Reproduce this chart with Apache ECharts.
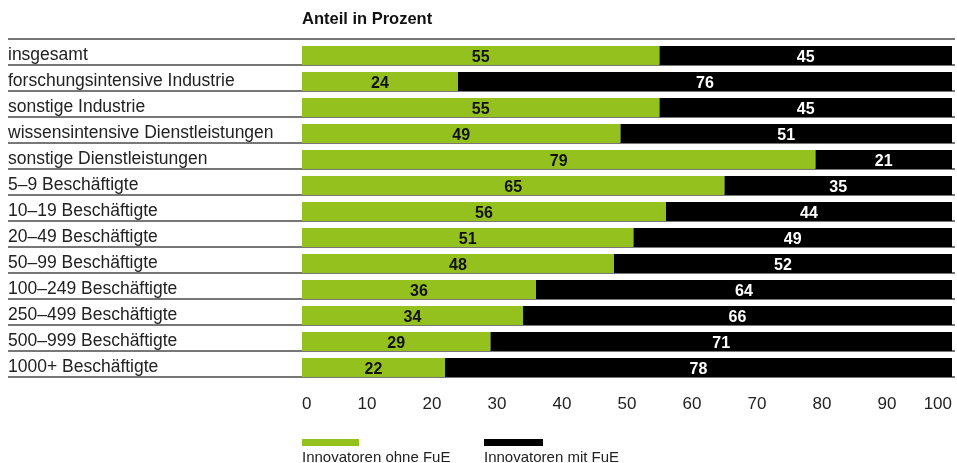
<!DOCTYPE html>
<html><head><meta charset="utf-8">
<script src="https://cdn.jsdelivr.net/npm/echarts@6/dist/echarts.min.js"></script>
<style>html,body{margin:0;padding:0;background:#fff}#c{width:957px;height:463px}</style>
</head><body><div id="c"></div>
<script>
const categories = ["insgesamt","forschungsintensive Industrie","sonstige Industrie","wissensintensive Dienstleistungen","sonstige Dienstleistungen","5–9 Beschäftigte","10–19 Beschäftigte","20–49 Beschäftigte","50–99 Beschäftigte","100–249 Beschäftigte","250–499 Beschäftigte","500–999 Beschäftigte","1000+ Beschäftigte"];
const ohneFuE = [55,24,55,49,79,65,56,51,48,36,34,29,22];
const mitFuE = [45,76,45,51,21,35,44,49,52,64,66,71,78];
const seriesNames = ["Innovatoren ohne FuE","Innovatoren mit FuE"];
const xTicks = {min:0,max:100,interval:10};

const FONT = "Liberation Sans";
const GREEN = "#95c11f";
const chart = echarts.init(document.getElementById('c'), null, {renderer:'canvas'});
chart.setOption({
  animation:false,
  title:{text:"Anteil in Prozent",left:302,top:11,padding:0,textStyle:{fontFamily:FONT,fontWeight:'bold',fontSize:16.5,color:'#111'}},
  grid:[
    {left:302,right:5,top:42.5,height:338,containLabel:false},
    {left:8,right:2,top:39,height:338,containLabel:false}
  ],
  xAxis:[
    {gridIndex:0,type:'value',min:xTicks.min,max:xTicks.max,interval:xTicks.interval,
     axisLine:{show:false},axisTick:{show:false},splitLine:{show:false},
     axisLabel:{margin:15,fontFamily:FONT,fontSize:17,color:'#222',alignMinLabel:'left',alignMaxLabel:'right'}},
    {gridIndex:1,type:'value',min:0,max:1,show:false}
  ],
  yAxis:[
    {gridIndex:0,type:'category',data:categories,inverse:true,
     axisLine:{show:false},axisTick:{show:false},splitLine:{show:false},
     axisLabel:{margin:294,align:'left',fontFamily:FONT,fontSize:17.5,color:'#222'}},
    {gridIndex:1,type:'category',data:categories,inverse:true,
     axisLine:{show:false},axisTick:{show:false},axisLabel:{show:false},
     splitLine:{show:true,lineStyle:{color:'#4a4a4a',width:1.5}}}
  ],
  series:[
    {name:seriesNames[0],type:'bar',stack:'a',xAxisIndex:0,yAxisIndex:0,data:ohneFuE,barWidth:19,
     itemStyle:{color:GREEN},
     label:{show:true,position:'inside',offset:[0,2],fontFamily:FONT,fontWeight:'bold',fontSize:16,color:'#111'}},
    {name:seriesNames[1],type:'bar',stack:'a',xAxisIndex:0,yAxisIndex:0,data:mitFuE,barWidth:19,
     itemStyle:{color:'#000'},
     label:{show:true,position:'inside',offset:[0,2],fontFamily:FONT,fontWeight:'bold',fontSize:16,color:'#fff'}}
  ],
  graphic:[
    {type:'rect',left:302,top:439,shape:{width:57,height:7},style:{fill:GREEN}},
    {type:'text',left:302,top:450,style:{text:seriesNames[0],font:'15px "Liberation Sans"',fill:'#222'}},
    {type:'rect',left:484,top:439,shape:{width:59,height:7},style:{fill:'#000'}},
    {type:'text',left:484,top:450,style:{text:seriesNames[1],font:'15px "Liberation Sans"',fill:'#222'}}
  ]
});
</script></body></html>
